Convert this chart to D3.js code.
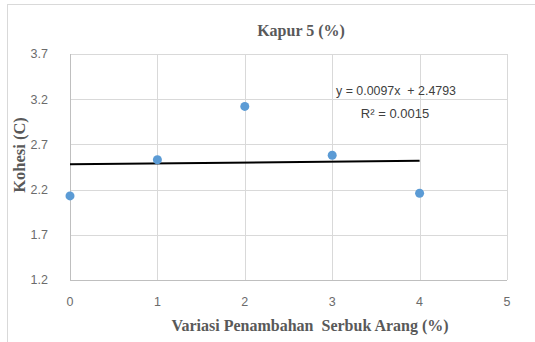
<!DOCTYPE html>
<html><head><meta charset="utf-8">
<script src="https://cdn.jsdelivr.net/npm/d3@7"></script>
<style>body{margin:0;background:#fff;} svg{display:block;}</style>
</head><body>
<svg id="c" width="535" height="342"></svg>
<script>
const xValues = [0, 1, 2, 3, 4];
const kohesi = [2.13, 2.53, 3.12, 2.58, 2.16];
const xTicks = [0, 1, 2, 3, 4, 5];
const yTicks = [1.2, 1.7, 2.2, 2.7, 3.2, 3.7];
const slope = 0.0097, intercept = 2.4793;
const eqText = "y = 0.0097x  + 2.4793";
const r2Text = "R² = 0.0015";
const title = "Kapur 5 (%)";
const xTitle = "Variasi Penambahan  Serbuk Arang (%)";
const yTitle = "Kohesi (C)";

const svg = d3.select("#c");
svg.append("rect").attr("x",7.5).attr("y",4.5).attr("width",540).attr("height",350)
  .attr("fill","#fff").attr("stroke","#d9d9d9");

const x = d3.scaleLinear().domain([0,5]).range([70,507]);
const y = d3.scaleLinear().domain([1.2,3.7]).range([280,54]);

const g = svg.append("g");
g.selectAll(".hg").data(yTicks).join("line")
  .attr("x1",x(0)).attr("x2",x(5)).attr("y1",d=>Math.round(y(d))+0.5).attr("y2",d=>Math.round(y(d))+0.5)
  .attr("stroke","#d9d9d9");
g.selectAll(".vg").data(xTicks).join("line")
  .attr("y1",y(1.2)).attr("y2",y(3.7)).attr("x1",d=>Math.round(x(d))+0.5).attr("x2",d=>Math.round(x(d))+0.5)
  .attr("stroke",d=>d===0?"#bfbfbf":"#d9d9d9");
g.append("line").attr("x1",x(0)).attr("x2",x(5)).attr("y1",Math.round(y(1.2))+0.5).attr("y2",Math.round(y(1.2))+0.5).attr("stroke","#bfbfbf");

const tickFont = "'Liberation Sans', Arial, sans-serif";
g.selectAll(".yt").data(yTicks).join("text")
  .attr("x",48).attr("y",d=>y(d)).attr("dy","0.35em").attr("text-anchor","end")
  .attr("font-family",tickFont).attr("font-size",12.5).attr("fill","#6b6b6b")
  .text(d=>d3.format(".1f")(d));
g.selectAll(".xt").data(xTicks).join("text")
  .attr("x",d=>x(d)).attr("y",306).attr("text-anchor","middle")
  .attr("font-family",tickFont).attr("font-size",12.5).attr("fill","#6b6b6b")
  .text(d=>d);

// trendline
g.append("line").attr("x1",x(0)).attr("x2",x(4))
  .attr("y1",y(intercept)).attr("y2",y(intercept+slope*4))
  .attr("stroke","#000").attr("stroke-width",2);

g.selectAll(".pt").data(xValues).join("circle")
  .attr("cx",d=>x(d)).attr("cy",(d,i)=>y(kohesi[i])).attr("r",4.5)
  .attr("fill","#5b9bd5");

g.append("text").attr("x",396).attr("y",95).attr("text-anchor","middle")
  .attr("font-family",tickFont).attr("font-size",13).attr("fill","#404040")
  .style("white-space","pre").attr("textLength",120).attr("lengthAdjust","spacingAndGlyphs").text(eqText);
g.append("text").attr("x",395).attr("y",118).attr("text-anchor","middle")
  .attr("font-family",tickFont).attr("font-size",13).attr("fill","#404040").text(r2Text);

const serif = "'Liberation Serif', 'Times New Roman', serif";
svg.append("text").attr("x",301).attr("y",35.5).attr("text-anchor","middle")
  .attr("font-family",serif).attr("font-weight","bold").attr("font-size",16).attr("fill","#595959").text(title);
svg.append("text").attr("x",310).attr("y",330.5).attr("text-anchor","middle")
  .attr("font-family",serif).attr("font-weight","bold").attr("font-size",16).attr("fill","#595959")
  .style("white-space","pre").text(xTitle);
svg.append("text").attr("transform","translate(25,155) rotate(-90)").attr("text-anchor","middle")
  .attr("font-family",serif).attr("font-weight","bold").attr("font-size",16.5).attr("fill","#595959").text(yTitle);
</script>
</body></html>
